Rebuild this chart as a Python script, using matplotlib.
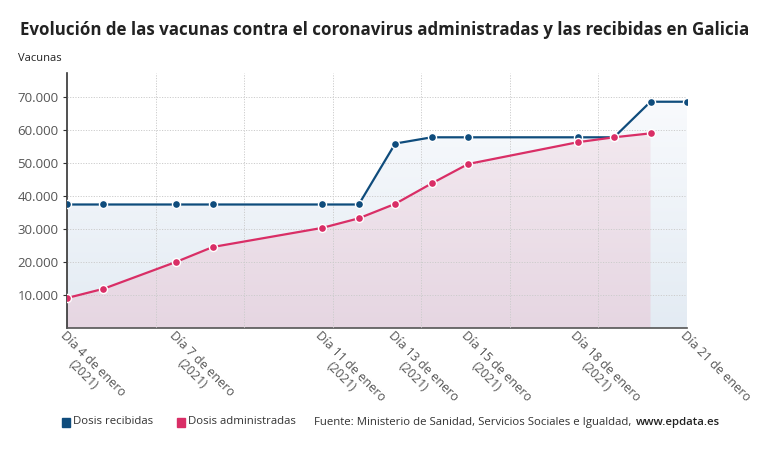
import numpy as np
import matplotlib.pyplot as plt
from matplotlib.patches import Rectangle

plt.rcParams['font.family'] = ['Open Sans', 'DejaVu Sans']

# data (day of January 2021)
days_rec = [4, 5, 7, 8, 11, 12, 13, 14, 15, 18, 19, 20, 21]
recibidas = [37500, 37500, 37500, 37500, 37500, 37500, 56000, 57900, 57900, 57900, 57900, 68700, 68700]
days_adm = [4, 5, 7, 8, 11, 12, 13, 14, 15, 18, 19, 20]
administradas = [9100, 11900, 20100, 24600, 30400, 33300, 37700, 43900, 49800, 56400, 57900, 59100]
tick_days = [4, 7, 11, 13, 15, 18, 21]
tick_labels = ['Día 4 de enero\n(2021)', 'Día 7 de enero\n(2021)', 'Día 11 de enero\n(2021)',
               'Día 13 de enero\n(2021)', 'Día 15 de enero\n(2021)', 'Día 18 de enero\n(2021)',
               'Día 21 de enero']
y_ticks = [10000, 20000, 30000, 40000, 50000, 60000, 70000]

blue = '#0f4c7c'
red = '#d92e66'

fig = plt.figure(figsize=(7.68, 4.51), dpi=100)
ax = fig.add_axes([0.0872, 0.2727, 0.8073, 0.566])
ymax = 77500
ax.set_xlim(4, 21)
ax.set_ylim(0, ymax)


def gradient_fill(x, y, c_bottom, c_top, z):
    poly = ax.fill_between(x, y, 0, color='none', lw=0)
    path = poly.get_paths()[0]
    grad = np.linspace(0, 1, 256)[:, None]
    cb = np.array(plt.matplotlib.colors.to_rgb(c_bottom))
    ct = np.array(plt.matplotlib.colors.to_rgb(c_top))
    img = cb[None, None, :] * (1 - grad[..., None]) + ct[None, None, :] * grad[..., None]
    im = ax.imshow(img, extent=[x[0], x[-1], 0, ymax], origin='lower', aspect='auto', zorder=z)
    im.set_clip_path(path, transform=ax.transData)


gradient_fill(days_rec, recibidas, '#e3ebf3', '#fbfcfe', 1)
gradient_fill(days_adm, administradas, '#e6d6e2', '#f6eef3', 2)

ax.plot(days_rec, recibidas, color=blue, lw=1.6, marker='o', ms=5.8,
        mec='white', mew=1.0, zorder=5)
ax.plot(days_adm, administradas, color=red, lw=1.6, marker='o', ms=5.8,
        mec='white', mew=1.0, zorder=6)

ax.set_xticks(tick_days)
ax.set_xticklabels(tick_labels, rotation=-45, ha='left', va='top',
                   rotation_mode='anchor', multialignment='center',
                   fontsize=9, color='#555555', linespacing=1.1)
ax.set_xticks(np.linspace(4, 21, 8), minor=True)
ax.tick_params(axis='x', which='both', length=0, pad=1)
ax.set_yticks(y_ticks)
ax.set_yticklabels([f'{v:,}'.replace(',', '.') for v in y_ticks], fontsize=9.5, color='#555555')
ax.tick_params(axis='y', length=3, color='#333333', pad=3)

ax.set_axisbelow(False)
ax.grid(True, axis='y', color='#cccccc', ls=(0, (1.2, 1.5)), lw=0.7)
ax.grid(True, axis='x', which='minor', color='#cccccc', ls=(0, (1.2, 1.5)), lw=0.7)

for s in ['top', 'right']:
    ax.spines[s].set_visible(False)
ax.spines['left'].set_color('#333333')
ax.spines['left'].set_linewidth(1.2)
ax.spines['bottom'].set_color('#555555')
ax.spines['bottom'].set_linewidth(1.2)
ax.set_facecolor('white')

fig.text(0.026, 0.933, 'Evolución de las vacunas contra el coronavirus administradas y las recibidas en Galicia',
         fontsize=12.2, fontweight='bold', color='#222222', va='center')
fig.text(0.024, 0.87, 'Vacunas', fontsize=8, color='#222222', va='center')

# legend / source
ly = 1 - 422 / 451
fig.patches.append(Rectangle((62 / 768, ly - 0.011), 8 / 768, 9 / 451, transform=fig.transFigure,
                             color=blue))
fig.text(73 / 768, ly, 'Dosis recibidas', fontsize=8.2, color='#333333', va='center')
fig.patches.append(Rectangle((177 / 768, ly - 0.011), 8 / 768, 9 / 451, transform=fig.transFigure,
                             color=red))
fig.text(188 / 768, ly, 'Dosis administradas', fontsize=8.2, color='#333333', va='center')
src = fig.text(314 / 768, ly, 'Fuente: Ministerio de Sanidad, Servicios Sociales e Igualdad,',
               fontsize=8.2, color='#333333', va='center')
ax.annotate('www.epdata.es', xy=(1, 0.5), xycoords=src, xytext=(3, 0), textcoords='offset points',
            va='center', ha='left', fontsize=8.2, color='#222222', fontweight='semibold',
            annotation_clip=False)

fig.savefig('out.png', dpi=100)
